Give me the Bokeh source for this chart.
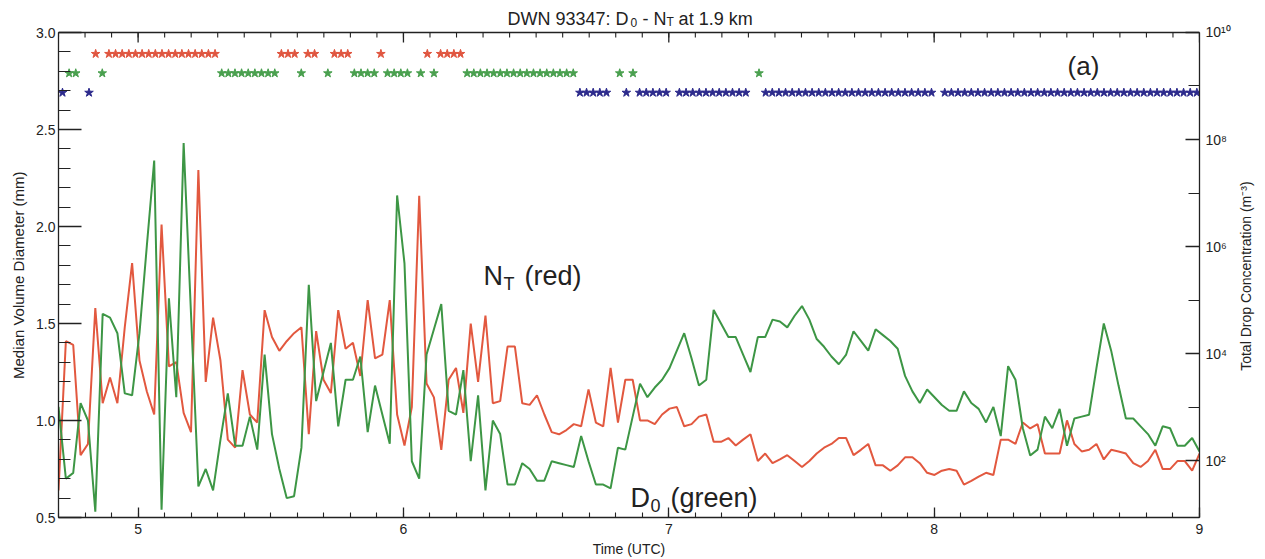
import math
import numpy as np
from bokeh.plotting import figure
from bokeh.layouts import row
from bokeh.models import (Range1d, LinearAxis, LogAxis, LogScale, FixedTicker,
                          CustomJSTickFormatter, Label, Span)
from bokeh.embed import file_html
from bokeh.resources import INLINE

# ---------------- data ----------------
T_START, T_END = 4.70, 9.00

# median volume diameter D0 (mm), green line, left axis
d0_mm = [
    1.07, 0.70, 0.73, 1.09, 1.00, 0.53, 1.55, 1.53, 1.45, 1.14,
    1.13, 1.45, 1.90, 2.34, 0.54, 1.63, 1.12, 2.43, 1.55, 0.66,
    0.75, 0.64, 0.90, 1.14, 0.87, 0.87, 1.02, 0.85, 1.34, 0.93,
    0.75, 0.60, 0.61, 0.86, 1.70, 1.10, 1.25, 1.40, 0.97, 1.21,
    1.21, 1.33, 0.94, 1.18, 1.03, 0.88, 2.16, 1.81, 0.79, 0.70,
    1.34, 1.47, 1.60, 1.05, 1.03, 1.26, 0.79, 1.13, 0.64, 1.00,
    0.93, 0.67, 0.67, 0.78, 0.75, 0.69, 0.69, 0.79, 0.78, 0.77,
    0.76, 0.92, 0.79, 0.67, 0.67, 0.65, 0.86, 0.85, 1.02, 1.19,
    1.12, 1.17, 1.21, 1.27, 1.36, 1.45, 1.32, 1.18, 1.21, 1.57,
    1.50, 1.43, 1.43, 1.34, 1.25, 1.43, 1.43, 1.52, 1.51, 1.48,
    1.54, 1.59, 1.52, 1.42, 1.38, 1.33, 1.29, 1.34, 1.46, 1.41,
    1.36, 1.47, 1.44, 1.41, 1.37, 1.23, 1.15, 1.09, 1.16, 1.12,
    1.08, 1.05, 1.05, 1.15, 1.09, 1.06, 0.99, 1.07, 0.92, 1.28,
    1.21, 0.96, 0.82, 0.85, 1.02, 0.96, 1.06, 0.87, 1.01, 1.02,
    1.03, 1.27, 1.50, 1.36, 1.18, 1.01, 1.01, 0.97, 0.93, 0.87,
    0.97, 0.96, 0.87, 0.87, 0.91, 0.84,
]

# total drop concentration N_T, as log10(m^-3), red line, right axis
nt_log10 = [
    1.44, 4.23, 4.16, 2.10, 2.31, 4.85, 3.07, 3.55, 3.07, 4.49,
    5.69, 3.87, 3.29, 2.86, 6.41, 3.76, 3.84, 2.89, 2.53, 7.43,
    3.47, 4.67, 3.87, 2.39, 2.24, 3.69, 2.86, 2.71, 4.81, 4.31,
    4.05, 4.23, 4.38, 4.49, 2.49, 4.42, 3.51, 3.26, 4.81, 4.09,
    4.20, 3.58, 5.00, 3.91, 3.98, 5.00, 2.86, 2.28, 3.00, 6.95,
    3.44, 3.18, 2.20, 3.51, 3.73, 2.89, 4.56, 3.47, 4.71, 3.07,
    3.11, 4.13, 4.13, 3.07, 3.04, 3.22, 2.86, 2.53, 2.49, 2.57,
    2.68, 2.64, 3.33, 2.71, 2.64, 3.73, 2.71, 3.51, 3.51, 2.75,
    2.75, 2.68, 2.86, 2.97, 3.00, 2.64, 2.68, 2.82, 2.86, 2.35,
    2.35, 2.42, 2.28, 2.39, 2.49, 1.99, 2.13, 1.95, 2.02, 2.10,
    1.99, 1.88, 1.99, 2.13, 2.24, 2.31, 2.42, 2.42, 2.10, 2.20,
    2.31, 1.91, 1.91, 1.81, 1.91, 2.06, 2.06, 1.95, 1.77, 1.73,
    1.81, 1.84, 1.81, 1.55, 1.62, 1.70, 1.77, 1.73, 2.39, 2.39,
    2.31, 2.71, 2.60, 2.68, 2.13, 2.13, 2.13, 2.75, 2.31, 2.17,
    2.20, 2.31, 2.02, 2.20, 2.17, 2.13, 1.95, 1.88, 1.99, 2.20,
    1.84, 1.84, 1.99, 1.99, 1.81, 2.13,
]

# classification flags (star rows): run lengths of r / g / b, n = no flag
STAR_T0, STAR_DT = 4.715, 0.025
star_runs = [
    ("b", 1), ("g", 2), ("n", 1), ("b", 1), ("r", 1), ("g", 1), ("r", 17),
    ("g", 9), ("r", 3), ("g", 1), ("r", 2), ("n", 1), ("g", 1), ("r", 3),
    ("g", 4), ("r", 1), ("g", 4), ("n", 1), ("g", 1), ("r", 1), ("g", 1),
    ("r", 4), ("g", 17), ("b", 5), ("n", 1), ("g", 1), ("b", 1), ("g", 1),
    ("b", 5), ("n", 1), ("b", 11), ("n", 1), ("g", 1), ("b", 26), ("n", 1),
    ("b", 39),
]

time_ticks = [5, 6, 7, 8, 9]
d0_ticks = [0.5, 1.0, 1.5, 2.0, 2.5, 3.0]
nt_ticks = [1e2, 1e4, 1e6, 1e8, 1e10]
nt_minor = [1e3, 1e5, 1e7, 1e9]

# axis extents (the frame runs a little above the top axis to hold the title)
D0_MIN, D0_MAX, D0_TOP = 0.5, 3.0, 3.165
NT_MIN, NT_MAX, NT_TOP = 10 ** 0.935, 1e10, 10 ** 10.598

# ---------------- styles ----------------
RED = "#e2583f"
GREEN = "#3d9645"
BLUE = "#2c2a8c"
INK = "#222222"
FONT = "Liberation Sans"
ROW_LEVEL = {"r": 2.89, "g": 2.79, "b": 2.69}
ROW_COLOR = {"r": "#e0553f", "g": "#4aa04f", "b": BLUE}
PX_PER_D0 = 194.0  # vertical pixels per mm on the left axis

t = np.linspace(T_START, T_END, len(d0_mm))
nt = 10.0 ** np.array(nt_log10)
cats = "".join(c * k for c, k in star_runs)
star_t = STAR_T0 + STAR_DT * np.arange(len(cats))

p = figure(width=1205, height=559, output_backend="svg", toolbar_location=None,
           title=None,
           x_range=Range1d(T_START, T_END), y_range=Range1d(D0_MIN, D0_TOP),
           x_axis_location=None, y_axis_location=None,
           min_border_left=28, min_border_right=36,
           min_border_top=0, min_border_bottom=42)
p.extra_y_ranges = {"nt": Range1d(NT_MIN, NT_TOP)}
p.extra_y_scales = {"nt": LogScale()}
p.xgrid.visible = False
p.ygrid.visible = False
p.outline_line_color = None
p.background_fill_color = "white"
p.border_fill_color = "white"


def style_axis(ax, tick_in, minor_in):
    ax.axis_line_color = INK
    ax.axis_line_width = 1.3
    ax.major_tick_line_color = INK
    ax.major_tick_line_width = 1.3
    ax.minor_tick_line_color = INK
    ax.minor_tick_line_width = 1.1
    ax.major_tick_in = tick_in
    ax.major_tick_out = 0
    ax.minor_tick_in = minor_in
    ax.minor_tick_out = 0
    ax.major_label_text_font = FONT
    ax.major_label_text_font_size = "14px"
    ax.major_label_text_color = INK
    ax.axis_label_text_font = FONT
    ax.axis_label_text_font_style = "normal"
    ax.axis_label_text_font_size = "14px"
    ax.axis_label_text_color = INK


minor_time = [round(4.7 + 0.1 * k, 1) for k in range(44)]
minor_d0 = [round(0.5 + 0.1 * k, 1) for k in range(26)]

xb = LinearAxis(ticker=FixedTicker(ticks=time_ticks, minor_ticks=minor_time),
                formatter=CustomJSTickFormatter(code="return tick.toFixed(0);"),
                axis_label="Time (UTC)")
style_axis(xb, 10, 5)
xb.major_label_standoff = 6
xb.axis_label_standoff = 4
p.add_layout(xb, "below")

yl = LinearAxis(ticker=FixedTicker(ticks=d0_ticks, minor_ticks=minor_d0),
                formatter=CustomJSTickFormatter(code="return tick.toFixed(1);"),
                bounds=(D0_MIN, D0_MAX))
style_axis(yl, 23, 12)
yl.major_label_standoff = 3
p.add_layout(yl, "left")

sup_code = r"""
const sup = {"0":"\u2070","1":"\u00b9","2":"\u00b2","3":"\u00b3","4":"\u2074",
             "5":"\u2075","6":"\u2076","7":"\u2077","8":"\u2078","9":"\u2079","-":"\u207b"};
const e = Math.round(Math.log10(tick));
return "10" + String(e).split("").map(c => sup[c]).join("");
"""
yr = LogAxis(y_range_name="nt",
             ticker=FixedTicker(ticks=nt_ticks, minor_ticks=nt_minor),
             formatter=CustomJSTickFormatter(code=sup_code),
             bounds=(NT_MIN, NT_MAX))
style_axis(yr, 14, 11)
yr.major_label_standoff = 6
p.add_layout(yr, "right")

# top edge of the box with inward ticks
p.add_layout(Span(location=D0_MAX, dimension="width", line_color=INK, line_width=1.3))
p.segment(x0=minor_time, y0=D0_MAX, x1=minor_time, y1=D0_MAX - 5 / PX_PER_D0,
          line_color=INK, line_width=1.1)
p.segment(x0=time_ticks, y0=D0_MAX, x1=time_ticks, y1=D0_MAX - 10 / PX_PER_D0,
          line_color=INK, line_width=1.3)

# ---------------- marks ----------------
p.line(t, nt, color=RED, line_width=2, y_range_name="nt")
p.line(t, d0_mm, color=GREEN, line_width=2)

for c in ("r", "g", "b"):
    mask = np.array([ch == c for ch in cats])
    p.scatter(star_t[mask], np.full(mask.sum(), ROW_LEVEL[c]), marker="star",
              size=9, color=ROW_COLOR[c])

# ---------------- texts ----------------
def label(fig, x, y, text, size, align="left", baseline="alphabetic", angle=0.0):
    fig.add_layout(Label(x=x, y=y, text=text, text_font=FONT, text_font_size=size,
                         text_color=INK, text_align=align, text_baseline=baseline,
                         angle=angle))

# title: DWN 93347: D0 - NT at 1.9 km
label(p, 6.392, 3.072, "DWN 93347: D", "18px")
label(p, 6.856, 3.052, "0", "12px")
label(p, 6.901, 3.072, "- N", "18px")
label(p, 6.991, 3.052, "T", "12px")
label(p, 7.037, 3.072, "at 1.9 km", "18px")

# NT (red)
label(p, 6.302, 1.747, "N", "27px")
label(p, 6.377, 1.706, "T", "18px")
label(p, 6.456, 1.747, "(red)", "27px")

# D0 (green)
label(p, 6.856, 0.603, "D", "27px")
label(p, 6.931, 0.562, "0", "18px")
label(p, 7.006, 0.603, "(green)", "27px")

label(p, 8.503, 2.825, "(a)", "26px", baseline="middle")


# narrow strips either side holding the rotated axis titles (read bottom to top)
def strip(text, x, y, size):
    s = figure(width=30, height=559, output_backend="svg", toolbar_location=None,
               title=None, x_range=Range1d(0, 30), y_range=Range1d(0, 559),
               x_axis_location=None, y_axis_location=None, min_border=0)
    s.xgrid.visible = False
    s.ygrid.visible = False
    s.outline_line_color = None
    s.border_fill_color = "white"
    label(s, x, y, text, size, align="center", baseline="middle", angle=math.pi / 2)
    return s


left_strip = strip("Median Volume Diameter (mm)", 18, 262, "15px")
right_strip = strip("Total Drop Concentration (m\u207b\u00b3)", 10, 261, "14px")

layout = row(left_strip, p, right_strip)
open("out.html", "w").write(file_html(layout, INLINE))
